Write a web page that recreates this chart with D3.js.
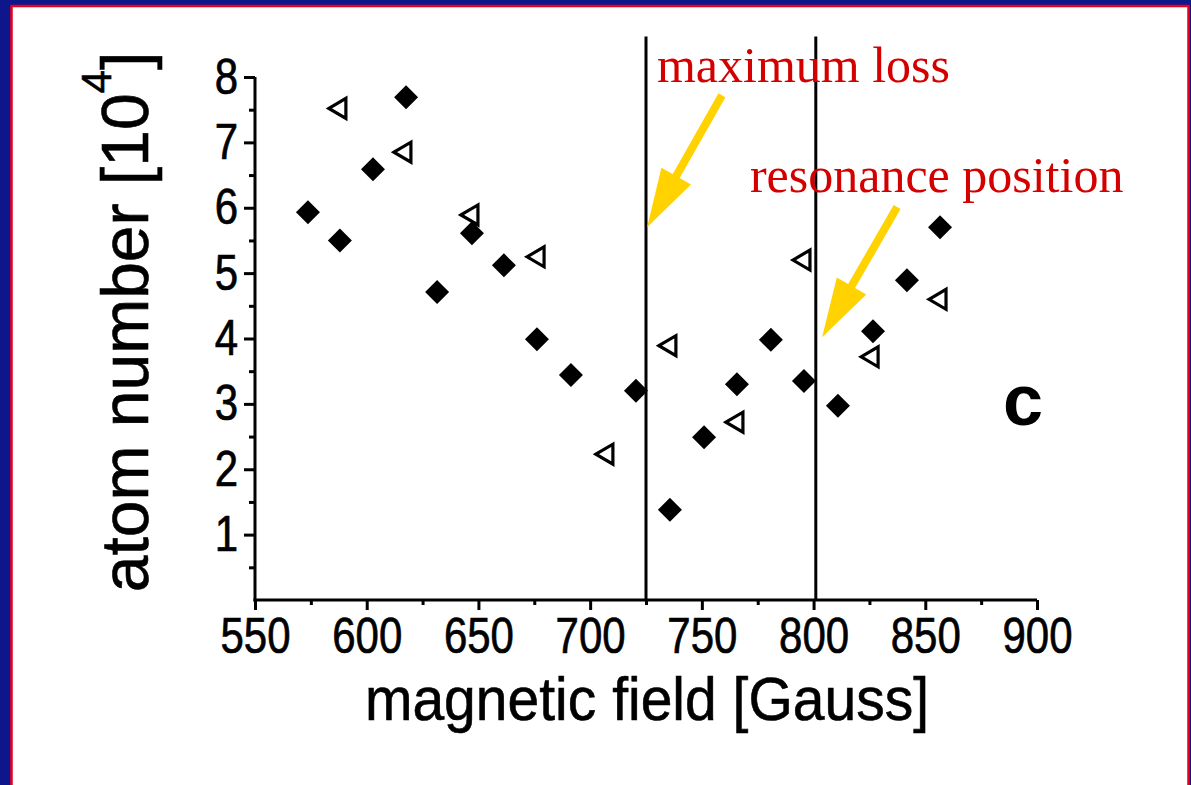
<!DOCTYPE html>
<html>
<head>
<meta charset="utf-8">
<script src="https://cdn.jsdelivr.net/npm/d3@7"></script>
<style>
  body { margin: 0; overflow: hidden; background: #fff; }
  text { font-family: "Liberation Sans", Arial, sans-serif; }
</style>
</head>
<body>
<svg width="1191" height="785"></svg>
<script>
// filled diamonds
var diamondField = [573.7, 588.0, 602.8, 617.6, 631.5, 647.1, 661.4, 676.2, 691.4, 720.5,
                    735.7, 751.0, 765.7, 780.9, 795.7, 810.9, 826.6, 841.8, 856.6];
var diamondAtoms = [5.93, 5.50, 6.59, 7.69, 4.71, 5.61, 5.12, 3.99, 3.44, 3.20,
                    1.38, 2.49, 3.30, 3.98, 3.35, 2.97, 4.11, 4.89, 5.70];

// open triangles
var triangleField = [587.1, 616.2, 646.2, 675.8, 706.6, 734.8, 764.8, 794.8, 825.3, 855.7];
var triangleAtoms = [7.52, 6.85, 5.89, 5.25, 2.23, 3.89, 2.72, 5.20, 3.72, 4.60];

// axis ticks
var xTicks = [550, 600, 650, 700, 750, 800, 850, 900];
var xMinor = [575, 625, 675, 725, 775, 825, 875];
var yTicks = [1, 2, 3, 4, 5, 6, 7, 8];
var yMinor = [0.5, 1.5, 2.5, 3.5, 4.5, 5.5, 6.5, 7.5];

// vertical marker lines (maximum loss, resonance position)
var markerField = [725, 801];

var svg = d3.select("svg"),
    width = +svg.attr("width"),
    height = +svg.attr("height");

// frame: blue edge with a thin red line
svg.append("rect").attr("width", width).attr("height", height).attr("fill", "#0d168a");
svg.append("rect")
    .attr("x", 11.5).attr("y", 6)
    .attr("width", 1177).attr("height", 785)
    .attr("fill", "#fff")
    .attr("stroke", "#e8001c")
    .attr("stroke-width", 2.5);

var x = d3.scaleLinear().domain([550, 900]).range([255, 1037]);
var y = d3.scaleLinear().domain([0, 8]).range([600, 77]);

// axes
var xAxis = svg.append("g")
    .attr("transform", "translate(0,600)")
    .call(d3.axisBottom(x).tickValues(xTicks).tickSize(10).tickSizeOuter(0).tickPadding(8));
svg.append("g")
    .attr("transform", "translate(0,600)")
    .call(d3.axisBottom(x).tickValues(xMinor).tickSize(5).tickFormat(""))
    .select(".domain").remove();

var yAxis = svg.append("g")
    .attr("transform", "translate(255,0)")
    .call(d3.axisLeft(y).tickValues(yTicks).tickSize(11).tickSizeOuter(0).tickPadding(6));
svg.append("g")
    .attr("transform", "translate(255,0)")
    .call(d3.axisLeft(y).tickValues(yMinor).tickSize(6).tickFormat(""))
    .select(".domain").remove();

svg.selectAll(".domain, .tick line")
    .attr("stroke", "#000")
    .attr("stroke-width", 3);

// tick labels: a bit condensed, like the original scan
var squeeze = 0.84;
svg.selectAll(".tick text")
    .attr("fill", "#000")
    .attr("stroke", "#000")
    .attr("stroke-width", 0.7)
    .style("font-size", "50px");
xAxis.selectAll(".tick text").attr("transform", "scale(" + squeeze + ",1)");
yAxis.selectAll(".tick text")
    .attr("x", -17 / squeeze)
    .attr("transform", "scale(" + squeeze + ",1)");

// make the axis lines meet in the corner
yAxis.select(".domain").attr("d", "M0," + (y(0) + 1.5) + "V" + y(8));
xAxis.select(".domain").attr("d", "M" + (x(550) - 1.5) + ",0H" + x(900));

// vertical lines
svg.append("g")
    .selectAll("line")
    .data(markerField)
    .enter()
    .append("line")
    .attr("x1", function (d) { return x(d); })
    .attr("x2", function (d) { return x(d); })
    .attr("y1", y(0))
    .attr("y2", y(8.62))
    .attr("stroke", "#000")
    .attr("stroke-width", 3);

// triangles (pointing left, open)
var triangles = triangleField.map(function (f, i) { return {f: f, n: triangleAtoms[i]}; });
svg.append("g")
    .selectAll("path")
    .data(triangles)
    .enter()
    .append("path")
    .attr("d", function (d) {
        var cx = x(d.f), cy = y(d.n);
        return "M" + (cx - 9) + "," + cy + "L" + (cx + 8) + "," + (cy - 10) + "L" + (cx + 8) + "," + (cy + 10) + "Z";
    })
    .attr("fill", "#fff")
    .attr("stroke", "#000")
    .attr("stroke-width", 3.2)
    .attr("stroke-linejoin", "miter");

// diamonds (filled)
var diamonds = diamondField.map(function (f, i) { return {f: f, n: diamondAtoms[i]}; });
svg.append("g")
    .selectAll("path")
    .data(diamonds)
    .enter()
    .append("path")
    .attr("d", function (d) {
        var cx = x(d.f), cy = y(d.n), r = 12;
        return "M" + cx + "," + (cy - r) + "L" + (cx + r) + "," + cy + "L" + cx + "," + (cy + r) + "L" + (cx - r) + "," + cy + "Z";
    })
    .attr("fill", "#000");

// axis titles
svg.append("text")
    .attr("transform", "translate(647,720) scale(0.92,1)")
    .attr("text-anchor", "middle")
    .attr("stroke", "#000")
    .attr("stroke-width", 0.6)
    .style("font-size", "62px")
    .text("magnetic field [Gauss]");

var yTitle = svg.append("text")
    .attr("transform", "translate(148,322) rotate(-90)")
    .attr("text-anchor", "middle")
    .attr("stroke", "#000")
    .attr("stroke-width", 0.6)
    .style("font-size", "66px");
yTitle.append("tspan").text("atom number [10");
yTitle.append("tspan").attr("dy", -37).style("font-size", "42px").text("4");
yTitle.append("tspan").attr("dy", 37).text("]");

// panel letter
svg.append("text")
    .attr("x", x(884.8))
    .attr("y", y(2.68))
    .style("font-size", "72px")
    .style("font-weight", "bold")
    .text("c");

// annotations
var red = "#d40000";
svg.append("text")
    .attr("x", x(729.9)).attr("y", y(7.92))
    .style("font-family", "'Liberation Serif', 'Times New Roman', serif")
    .style("font-size", "50px")
    .attr("fill", red)
    .text("maximum loss");
svg.append("text")
    .attr("x", x(771.5)).attr("y", y(6.24))
    .style("font-family", "'Liberation Serif', 'Times New Roman', serif")
    .style("font-size", "50px")
    .attr("fill", red)
    .text("resonance position");

// yellow arrows: [tail field, tail atoms, tip field, tip atoms]
var arrows = [[759.0, 7.72, 725.5, 5.70], [837.4, 6.01, 803.8, 4.02]];
var gold = "#ffd200";
arrows.forEach(function (a) {
    var x0 = x(a[0]), y0 = y(a[1]), x1 = x(a[2]), y1 = y(a[3]);
    var dx = x1 - x0, dy = y1 - y0, len = Math.sqrt(dx * dx + dy * dy);
    var ux = dx / len, uy = dy / len, px = -uy, py = ux;
    var headLen = 59, half = 17;
    var bx = x1 - headLen * ux, by = y1 - headLen * uy;
    svg.append("line")
        .attr("x1", x0).attr("y1", y0)
        .attr("x2", bx + 4 * ux).attr("y2", by + 4 * uy)
        .attr("stroke", gold)
        .attr("stroke-width", 8);
    svg.append("path")
        .attr("d", "M" + x1 + "," + y1 +
            "L" + (bx + half * px) + "," + (by + half * py) +
            "L" + (bx - half * px) + "," + (by - half * py) + "Z")
        .attr("fill", gold);
});
</script>
</body>
</html>
